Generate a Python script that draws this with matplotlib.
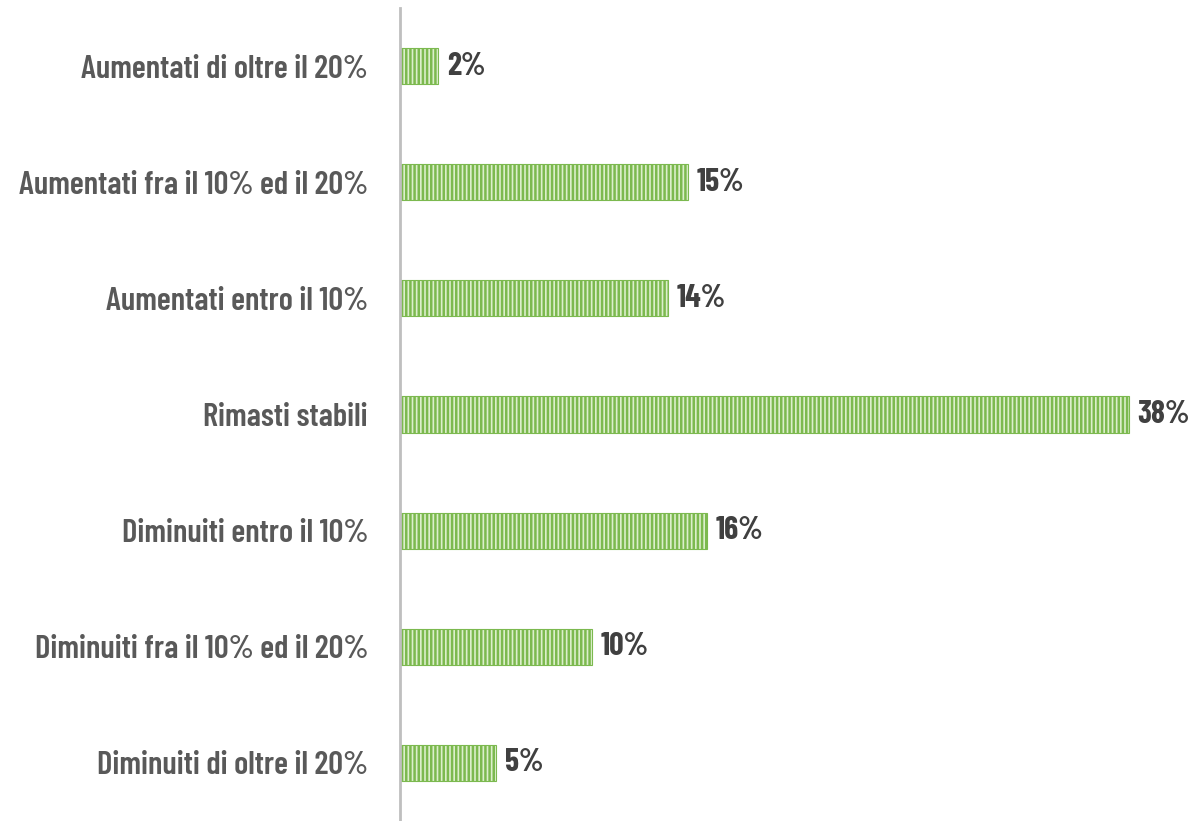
import matplotlib.pyplot as plt

categories = [
    "Aumentati di oltre il 20%",
    "Aumentati fra il 10% ed il 20%",
    "Aumentati entro il 10%",
    "Rimasti stabili",
    "Diminuiti entro il 10%",
    "Diminuiti fra il 10% ed il 20%",
    "Diminuiti di oltre il 20%",
]
values = [2, 15, 14, 38, 16, 10, 5]

family = ["Barlow Condensed", "DejaVu Sans"]

plt.rcParams["hatch.linewidth"] = 1.8
plt.rcParams["hatch.color"] = "#7cb94f"

fig = plt.figure(figsize=(11.89, 8.21), dpi=100)
ax = fig.add_axes([400 / 1189, 0, 767 / 1189, 813 / 821])

pos = list(range(len(categories)))
ax.barh(pos, values, height=0.31, color="#dcefcc", edgecolor="#7cb94f",
        hatch="||||", linewidth=0.8)

for p, v in zip(pos, values):
    ax.text(v + 0.45, p, f"{v}%", va="center", ha="left", fontsize=23,
            fontweight="bold", color="#404040", family=family)

ax.set_xlim(0, 40)
ax.set_ylim(6.5, -0.5)
ax.set_yticks(pos)
ax.set_yticklabels(categories, fontsize=23.5, fontweight="semibold", color="#595959",
                   family=family)
ax.tick_params(axis="y", length=0, pad=23)
ax.set_xticks([])
for s in ["top", "right", "bottom"]:
    ax.spines[s].set_visible(False)
ax.spines["left"].set_color("#bfbfbf")
ax.spines["left"].set_linewidth(2)

fig.savefig("out.png", dpi=100)
